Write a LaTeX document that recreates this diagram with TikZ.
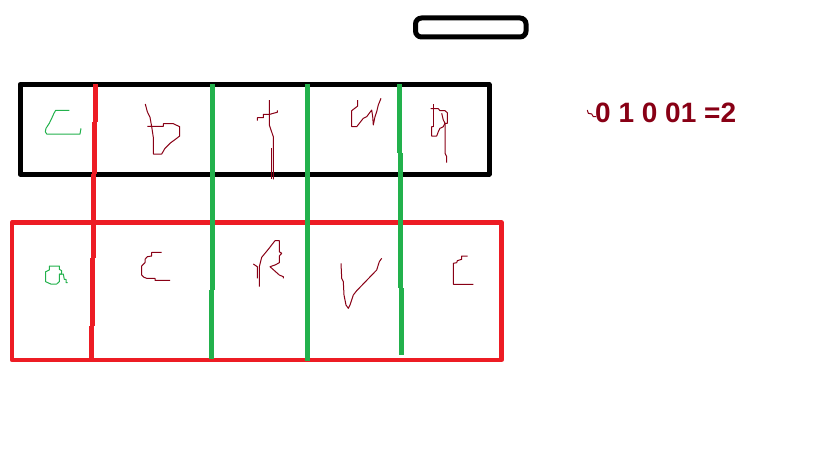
\documentclass[tikz,border=0pt]{standalone}
\usepackage{fontspec}
\setmainfont{Liberation Sans}
\usepackage{tikz}
\definecolor{paintred}{HTML}{ED1C24}
\definecolor{paintgreen}{HTML}{22B14C}
\definecolor{paintwine}{HTML}{880015}
\tikzset{
  thick box/.style={line width=5pt, line join=round},
  bar/.style={line width=5pt},
  ink/.style={paintwine, line width=1pt, line join=round},
  greenink/.style={paintgreen, line width=1pt, line join=round}
}

\begin{document}
\begin{tikzpicture}[x=1pt,y=-1pt]
 \useasboundingbox (0,0) rectangle (819,460);
 % pill at the top
 \draw [line width=5pt, rounded corners=6pt] (415.5,18) rectangle (526,37);
 % the two boxes
 \draw [thick box] (20,84.5) rectangle (489,174);
 \draw [thick box, paintred, line width=4.5pt] (12,222.3) rectangle (501.3,360);
 % red divider
 \draw [bar, paintred] (95,84)--(95,122);
 \draw [bar, paintred] (94.3,122)--(94.3,174);
 \draw [bar, paintred] (93.5,174)--(93.5,258);
 \draw [bar, paintred] (92.3,258)--(92.3,326);
 \draw [bar, paintred] (91,326)--(91,359);
 % green dividers
 \draw [bar, paintgreen] (212.8,84)--(212.8,153);
 \draw [bar, paintgreen] (212,153)--(212,290);
 \draw [bar, paintgreen] (211,290)--(211,359);
 \draw [bar, paintgreen] (307,84)--(307,361);
 \draw [bar, paintgreen] (399,84)--(399,153);
 \draw [bar, paintgreen] (400.6,153)--(400.6,288);
 \draw [bar, paintgreen] (401.3,288)--(401.3,355);
 % letters, upper row
 \draw [greenink] (69.3,110.3)--(55.7,110.3)--(54,113.3)--(51.7,118.3)--(49.3,123.3)--(46,128.3)--(45.3,131.7)--(46.7,134)--(80,134)--(81,128.3);
 \draw [ink] (145.3,104)--(147.3,111.7)--(150,117.3)--(151.7,126.7)--(153.3,137.3)--(153.3,154)--(161.7,154)--(165,148.3)--(170,143.3)--(176.7,138.3)--(179.7,136)--(179.7,126.7)--(173.3,123.7)--(163.3,123.7)--(163.3,126.3)--(147.3,126.3);
 \draw [ink] (269.3,100)--(269.3,125)--(273.3,136.7)--(273.3,179.3);
 \draw [ink] (271.7,148.3)--(271.7,179.3);
 \draw [ink] (257.3,120.7)--(257.3,117.7)--(263.3,117.7)--(263.3,114.3)--(270,114.3)--(273.3,113.3)--(277.3,112.3)--(277.3,110.3);
 \draw [ink] (357.7,100)--(357.7,106)--(351.7,110.7)--(351.7,126.7)--(356.7,126.7)--(363.3,118.3)--(366.7,116.7)--(371.7,110)--(372.7,116.7)--(373.3,125)--(375,116.7)--(376.7,111.7)--(378.3,105)--(381,98.3);
 \draw [ink] (430.7,108.7)--(438.3,108.7)--(440,110.7)--(445,110.7)--(447.3,112.7)--(447.3,123.3)--(445,123.3)--(443.3,126.7)--(440,128.3)--(438.3,131.7)--(436.7,136)--(431.7,136)--(431.7,126.7)--(433.3,126.7);
 \draw [ink] (433.3,104)--(433.3,126.7);
 \draw [ink] (441.7,113.3)--(443.3,120)--(445,123.3)--(445,153.3)--(446.7,156.7)--(446.7,162.7);
 % letters, lower row
 \draw [greenink] (49.3,266)--(59.3,266)--(59.3,269.3)--(61.7,270.7)--(61.7,274)--(59.3,274)--(59.3,281.7)--(56.7,284)--(50.7,284)--(45.7,281.7)--(45.7,271.7)--(49.3,270)--cycle;
 \draw [greenink] (59.3,274)--(63.3,274)--(64.3,279.3)--(66,279.3)--(66,282.7)--(67.7,282.7);
 \draw [ink] (161.7,252.3)--(151.7,252.3)--(151.7,256)--(147.3,256.7)--(145,259.3)--(145,262.7)--(141.7,266)--(141.7,275)--(144,277.3)--(146.7,278.3)--(155,278.3)--(155,280.3)--(170,280.3);
 \draw [ink] (259.3,286.7)--(259.3,266.7)--(261.7,257.3)--(268.3,249.3)--(275,240.7)--(279.3,240.7)--(279.3,251.7)--(281.7,253.3)--(279.3,256)--(279.3,262.7)--(275,265)--(270,266.7)--(279.3,275)--(283.3,276.7)--(283.3,278.3);
 \draw [ink] (253.3,264)--(257.3,266.7)--(257.3,278.3);
 \draw [ink] (341,263.3)--(341.7,278.3)--(343.3,281.7)--(344,295)--(346,305)--(348.3,308.3)--(350,305)--(353.3,295)--(356.7,290.7)--(376.7,270)--(379.3,261.7)--(381.7,258.3);
 \draw [ink] (467.7,256)--(461.7,256)--(461.7,259.3)--(457.3,260.7)--(456.7,262.7)--(453.3,263.3)--(453.3,284.3)--(473.3,284.3);
 % sum on the right
 \draw [ink] (587.3,110)--(588.3,113.3)--(591.7,114)--(593.3,116.7)--(596,116.7);
 \node [anchor=base west, inner sep=0pt, text=paintwine, font=\fontsize{28}{30}\selectfont\bfseries] (sum) at (595,122.5) {0 1 0 01 =2};
\end{tikzpicture}
\end{document}
